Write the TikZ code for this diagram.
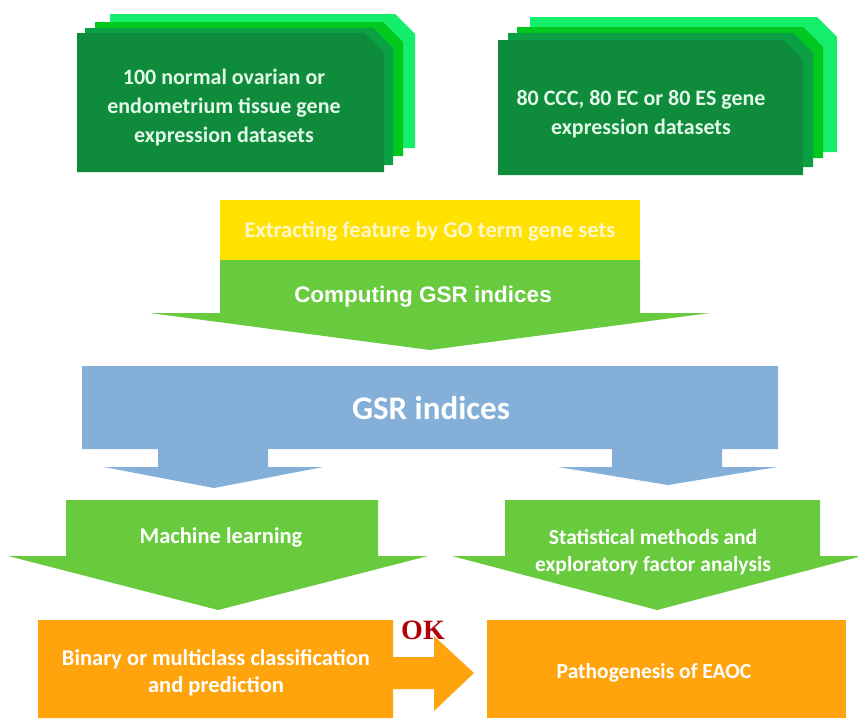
\documentclass[tikz,border=0pt]{standalone}
\usepackage{fontspec}
\setmainfont{Carlito}
\newfontfamily\headfont{Liberation Sans}
\newfontfamily\okfont{Liberation Serif}

\definecolor{cardA}{HTML}{0E8C3B}
\definecolor{cardB}{HTML}{0AA043}
\definecolor{cardC}{HTML}{00C81E}
\definecolor{cardD}{HTML}{14EE6A}
\definecolor{cardtext}{HTML}{E2F8E8}
\definecolor{goyellow}{HTML}{FFE200}
\definecolor{goyellowtext}{HTML}{FFF6CC}
\definecolor{leaf}{HTML}{68CB3E}
\definecolor{sky}{HTML}{83AFD8}
\definecolor{amber}{HTML}{FFA40C}
\definecolor{okred}{HTML}{B0000A}

% one sheet of a stacked card: left, top, right, bottom, snipped top-right corner
\newcommand\cardsheet[5]{%
  \fill[#1] (#2,#3) -- ({#4-20},#3) -- (#4,{#3+20}) -- (#4,#5) -- (#2,#5) -- cycle;}

\tikzset{
  cardlabel/.style={text=cardtext, font=\bfseries\fontsize{22}{29}\selectfont, align=center, inner sep=0pt},
  whitelabel/.style={text=white, font=\bfseries\fontsize{22.5}{27}\selectfont, align=center, inner sep=0pt},
}

\begin{document}
\begin{tikzpicture}[x=1pt,y=-1pt]
\useasboundingbox (0,0) rectangle (858,718);
\fill[white] (0,0) rectangle (858,718);

% ---- stacked data cards ----
\cardsheet{cardD}{110}{14}{415}{148}
\cardsheet{cardC}{95}{22}{403}{156}
\cardsheet{cardB}{85}{28}{393}{165}
\cardsheet{cardA}{77}{33}{384}{172}
\node[cardlabel] (normal) at (224,108)
  {100 normal ovarian or\\endometrium tissue gene\\expression datasets};

\cardsheet{cardD}{530}{17}{837}{152}
\cardsheet{cardC}{517}{27}{823}{158}
\cardsheet{cardB}{508}{33}{813}{167}
\cardsheet{cardA}{498}{40}{803}{175}
\node[cardlabel] (tumour) at (641,114)
  {80 CCC, 80 EC or 80 ES gene\\expression datasets};

% ---- feature extraction and GSR computation ----
\fill[goyellow] (220,200) rectangle (640,260);
\fill[leaf] (220,260) -- (640,260) -- (640,313) -- (710,313) -- (430,350)
  -- (150,313) -- (220,313) -- cycle;
\node[text=goyellowtext, font=\bfseries\fontsize{22.5}{26}\selectfont, inner sep=0pt]
  (extract) at (430,231) {Extracting feature by GO term gene sets};
\node[text=white, font=\headfont\bfseries\fontsize{22.5}{26}\selectfont, inner sep=0pt]
  (compute) at (423,297) {Computing GSR indices};

% ---- GSR indices block with two outlets ----
\fill[sky] (82,366) -- (778,366) -- (778,449) -- (722,449) -- (722,467) -- (777,467)
  -- (668,485) -- (558,467) -- (612,467) -- (612,449) -- (268,449) -- (268,467)
  -- (323,467) -- (214,488) -- (104,467) -- (158,467) -- (158,449) -- (82,449) -- cycle;
\node[text=white, font=\bfseries\fontsize{33}{38}\selectfont, inner sep=0pt]
  (gsr) at (431,408) {GSR indices};

% ---- analysis arrows ----
\fill[leaf] (66,500) -- (378,500) -- (378,556) -- (428,556) -- (218,610)
  -- (8,556) -- (66,556) -- cycle;
\node[whitelabel] (ml) at (221,538) {Machine learning};

\fill[leaf] (505,500) -- (820,500) -- (820,556) -- (862,556) -- (657,610)
  -- (452,556) -- (505,556) -- cycle;
\node[whitelabel, font=\bfseries\fontsize{21.5}{27}\selectfont] (stat) at (653,552)
  {Statistical methods and\\exploratory factor analysis};

% ---- outcome boxes ----
\fill[amber] (38,620) -- (393,620) -- (393,657) -- (434,657) -- (434,636)
  -- (474,673) -- (434,711) -- (434,689) -- (393,689) -- (393,718) -- (38,718) -- cycle;
\node[whitelabel] (binary) at (216,673)
  {Binary or multiclass classification\\and prediction};

\fill[amber] (487,620) rectangle (846,718);
\node[whitelabel, font=\bfseries\fontsize{21.5}{27}\selectfont] (patho) at (654,673)
  {Pathogenesis of EAOC};

\node[text=okred, font=\okfont\bfseries\fontsize{28}{30}\selectfont, inner sep=0pt]
  (ok) at (423,630) {OK};
\end{tikzpicture}
\end{document}
